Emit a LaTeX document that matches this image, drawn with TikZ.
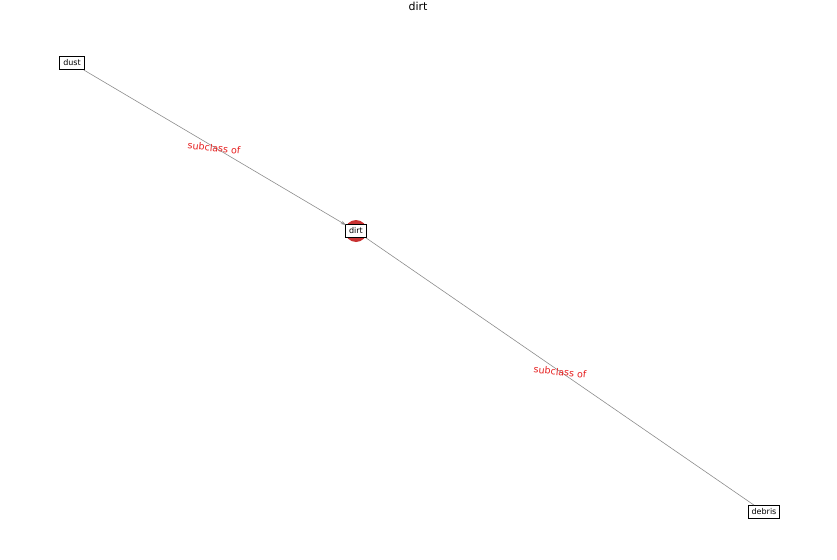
\documentclass[tikz,border=0pt]{standalone}
\usepackage{fontspec}
\setmainfont{DejaVu Sans}
\usetikzlibrary{arrows.meta,calc}
\definecolor{hubred}{RGB}{200,50,50}
\definecolor{edgegray}{RGB}{140,140,140}
\definecolor{labelred}{RGB}{230,30,30}
\begin{document}
\begin{tikzpicture}[x=1pt,y=-1pt,
                    main/.style = {draw, fill=white, line width=0.8pt, inner xsep=3.5pt, inner ysep=3.5pt, font=\fontsize{8}{9}\selectfont},
                    rel/.style = {text=labelred, rotate=-6, font=\fontsize{9.5}{10}\selectfont},
                    link/.style = {draw=edgegray, line width=0.6pt}]
                    \useasboundingbox (0,0) rectangle (837,559);
                    \node (title) at (418,6) {\fontsize{11}{12}\selectfont dirt};
                    \fill[hubred] (356,231) circle (11);
                    \node[main] (1) at (356,231) {dirt};
                    \node[main] (2) at (72,63) {dust};
                    \node[main] (3) at (764,512) {debris};
                    \coordinate (tip) at ($(1.center)!12pt!(2.center)$);

                    \draw[link, -{Stealth[length=5pt,width=3.5pt]}] (2) -- (tip);
                    \draw[link] (3) -- (1);
                    \node[rel] (l1) at (214,148) {subclass of};
                    \node[rel] (l2) at (560,372) {subclass of};
                \end{tikzpicture}
\end{document}
